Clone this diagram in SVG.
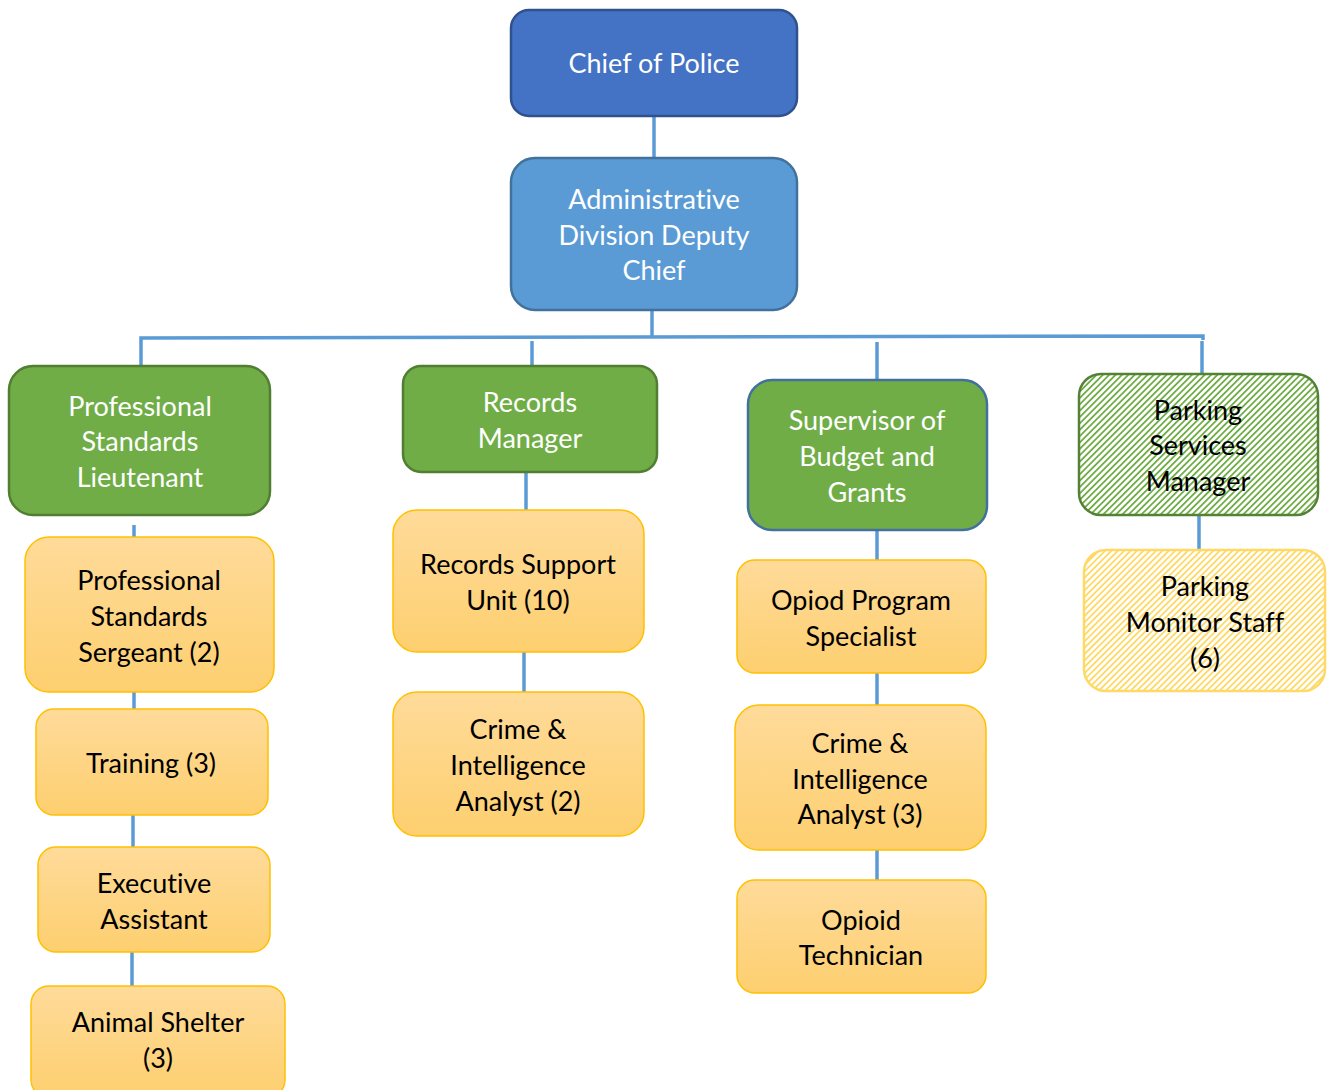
<svg xmlns="http://www.w3.org/2000/svg" width="1327" height="1090" viewBox="0 0 1327 1090">
<style>
text{font-family:Lato,"Liberation Sans",sans-serif;font-size:27px;text-anchor:middle;dominant-baseline:central;font-variant-ligatures:none}
.w{fill:#ffffff}
.k{fill:#000000}
.con{stroke:#5B9BD5;stroke-width:3.5;fill:none}
.blue{fill:#4472C4;stroke:#2F528F;stroke-width:2.5}
.lblue{fill:#5B9BD5;stroke:#41719C;stroke-width:2.5}
.green{fill:#70AD47;stroke:#507E32;stroke-width:2.5}
.greenb{fill:#70AD47;stroke:#41719C;stroke-width:2.5}
.orange{fill:url(#og);stroke:#FFC000;stroke-width:1.5}
.hg{fill:url(#hatchG);stroke:#548235;stroke-width:2.5}
.hy{fill:url(#hatchY);stroke:#FFD966;stroke-width:2.5}
</style>
<defs>
<linearGradient id="og" x1="0" y1="0" x2="0" y2="1">
<stop offset="0" stop-color="#FFDB9A"/>
<stop offset="1" stop-color="#FDCF6F"/>
</linearGradient>
<pattern id="hatchG" patternUnits="userSpaceOnUse" width="4.5" height="4.5" patternTransform="rotate(45)">
<rect width="4.5" height="4.5" fill="#ffffff"/>
<rect width="1.8" height="4.5" fill="#70AD47"/>
</pattern>
<pattern id="hatchY" patternUnits="userSpaceOnUse" width="4.5" height="4.5" patternTransform="rotate(45)">
<rect width="4.5" height="4.5" fill="#ffffff"/>
<rect width="1.8" height="4.5" fill="#FFD966"/>
</pattern>
</defs>
<g id="connectors">
<path class="con" d="M654 116V158"/>
<path class="con" d="M652 310V337"/>
<path class="con" d="M141 366V338L1203 336V340"/>
<path class="con" d="M532 341V366"/>
<path class="con" d="M877 342V380"/>
<path class="con" d="M1202 341V374"/>
<path class="con" d="M134 525V537"/>
<path class="con" d="M134 692V709"/>
<path class="con" d="M133 815V847"/>
<path class="con" d="M132 952V986"/>
<path class="con" d="M526 472V510"/>
<path class="con" d="M524 652V692"/>
<path class="con" d="M877 530V560"/>
<path class="con" d="M877 673V705"/>
<path class="con" d="M877 850V880"/>
<path class="con" d="M1199 515V550"/>
</g>
<g id="chief"><rect class="blue" x="511" y="10" width="286" height="106" rx="18"/><text class="w" x="654" y="62">Chief of Police</text></g>
<g id="deputy"><rect class="lblue" x="511" y="158" width="286" height="152" rx="24"/><text class="w" x="654" y="198">Administrative</text><text class="w" x="654" y="234">Division Deputy</text><text class="w" x="654" y="269">Chief</text></g>
<g id="lieutenant"><rect class="green" x="9" y="366" width="261" height="149" rx="24"/><text class="w" x="140" y="405">Professional</text><text class="w" x="140" y="440">Standards</text><text class="w" x="140" y="476">Lieutenant</text></g>
<g id="records-manager"><rect class="green" x="403" y="366" width="254" height="106" rx="18"/><text class="w" x="530" y="401">Records</text><text class="w" x="530" y="437">Manager</text></g>
<g id="budget"><rect class="greenb" x="748" y="380" width="239" height="150" rx="24"/><text class="w" x="867" y="419">Supervisor of</text><text class="w" x="867" y="455">Budget and</text><text class="w" x="867" y="491">Grants</text></g>
<g id="parking-manager"><rect class="hg" x="1079" y="374" width="239" height="141" rx="22"/><text class="k" x="1198" y="409">Parking</text><text class="k" x="1198" y="444">Services</text><text class="k" x="1198" y="480">Manager</text></g>
<g id="sergeant"><rect class="orange" x="25" y="537" width="249" height="155" rx="24"/><text class="k" x="149" y="579">Professional</text><text class="k" x="149" y="615">Standards</text><text class="k" x="149" y="651">Sergeant (2)</text></g>
<g id="training"><rect class="orange" x="36" y="709" width="232" height="106" rx="18"/><text class="k" x="151" y="762">Training (3)</text></g>
<g id="exec-assistant"><rect class="orange" x="38" y="847" width="232" height="105" rx="18"/><text class="k" x="154" y="882">Executive</text><text class="k" x="154" y="918">Assistant</text></g>
<g id="animal-shelter"><rect class="orange" x="31" y="986" width="254" height="112" rx="18"/><text class="k" x="158" y="1021">Animal Shelter</text><text class="k" x="158" y="1057">(3)</text></g>
<g id="records-support"><rect class="orange" x="393" y="510" width="251" height="142" rx="24"/><text class="k" x="518" y="563">Records Support</text><text class="k" x="518" y="599">Unit (10)</text></g>
<g id="crime-analyst-2"><rect class="orange" x="393" y="692" width="251" height="144" rx="24"/><text class="k" x="518" y="728">Crime &amp;</text><text class="k" x="518" y="764">Intelligence</text><text class="k" x="518" y="800">Analyst (2)</text></g>
<g id="opiod-specialist"><rect class="orange" x="737" y="560" width="249" height="113" rx="18"/><text class="k" x="861" y="599">Opiod Program</text><text class="k" x="861" y="635">Specialist</text></g>
<g id="crime-analyst-3"><rect class="orange" x="735" y="705" width="251" height="145" rx="24"/><text class="k" x="860" y="742">Crime &amp;</text><text class="k" x="860" y="778">Intelligence</text><text class="k" x="860" y="813">Analyst (3)</text></g>
<g id="opioid-technician"><rect class="orange" x="737" y="880" width="249" height="113" rx="18"/><text class="k" x="861" y="919">Opioid</text><text class="k" x="861" y="954">Technician</text></g>
<g id="parking-monitor"><rect class="hy" x="1084" y="550" width="241" height="141" rx="22"/><text class="k" x="1205" y="585">Parking</text><text class="k" x="1205" y="621">Monitor Staff</text><text class="k" x="1205" y="657">(6)</text></g>
</svg>
